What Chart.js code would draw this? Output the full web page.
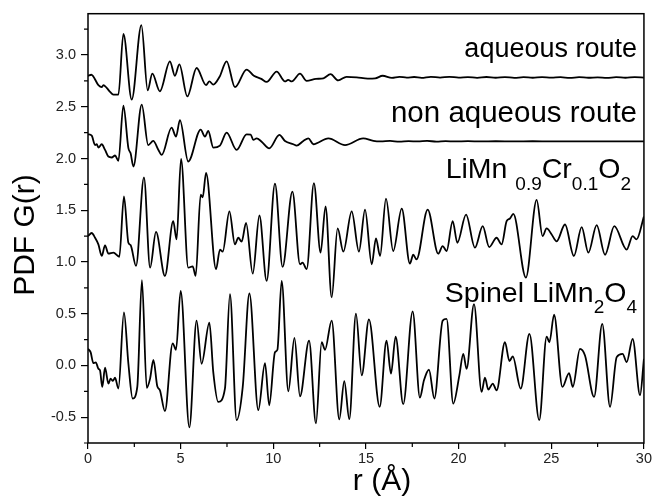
<!DOCTYPE html>
<html>
<head>
<meta charset="utf-8">
<script src="https://cdn.jsdelivr.net/npm/chart.js@4"></script>
<style>
  html, body { margin: 0; padding: 0; background: #fff; }
  #wrap { width: 653px; height: 498px; }
</style>
</head>
<body>
<div id="wrap"><canvas id="pdf" width="653" height="498"></canvas></div>
<script>
// r (Å), G(r)
const aqueous = [[0,2.80],[0.18,2.81],[0.56,2.71],[0.74,2.69],[0.83,2.71],[1.01,2.683],[1.19,2.644],[1.37,2.618],[1.64,2.618],
  [1.91,3.205],[2.36,2.57],[2.88,3.29],[3.22,2.66],[3.47,2.82],[3.88,2.65],[4.42,2.94],[4.69,2.80],[4.93,2.91],[5.36,2.60],
  [5.86,2.875],[6.37,2.71],[6.55,2.745],[6.76,2.715],[7.1,2.79],[7.48,2.94],[7.93,2.69],[8.56,2.86],[8.95,2.80],[9.35,2.77],
  [9.64,2.74],[10.18,2.84],[10.63,2.745],[10.8,2.76],[11.0,2.745],[11.44,2.82],[11.8,2.75],[12.3,2.77],[12.7,2.775],
  [13.09,2.815],[13.5,2.755],[13.95,2.79],[14.5,2.785],[15.1,2.772],[15.5,2.775],[15.9,2.80],[16.4,2.78],[16.8,2.79],
  [17.2,2.782],[17.6,2.788],[18.0,2.78],[18.5,2.79],[19.0,2.783],[19.5,2.79],[20.0,2.782],[20.5,2.787],[21.0,2.78],
  [21.5,2.788],[22.0,2.781],[22.5,2.787],[23.0,2.78],[23.5,2.786],[24.0,2.781],[24.5,2.787],[25.0,2.782],[25.5,2.786],
  [26.0,2.78],[26.5,2.786],[27.0,2.781],[27.5,2.785],[28.0,2.78],[28.5,2.786],[29.0,2.781],[29.5,2.786],[30.0,2.783]];

const nonAqueous = [[0,2.234],[0.2,2.221],[0.38,2.13],[0.47,2.14],[0.56,2.106],[0.74,2.138],[0.92,2.083],[1.1,2.019],
  [1.28,2.01],[1.46,2.029],[1.64,1.978],[1.91,2.51],[2.18,2.10],[2.3,2.05],[2.45,1.923],[2.9,2.522],[3.25,2.13],[3.52,2.17],
  [3.8,2.083],[3.98,2.035],[4.51,2.298],[4.75,2.212],[4.96,2.372],[5.41,1.971],[6.08,2.279],[6.31,2.212],[6.49,2.266],
  [6.76,2.106],[7.12,2.125],[7.48,2.25],[8.02,2.083],[8.56,2.234],[8.78,2.232],[8.92,2.18],[9.1,2.195],[9.37,2.163],
  [9.78,2.099],[10.33,2.228],[10.63,2.17],[11.08,2.138],[11.26,2.125],[11.62,2.17],[11.89,2.195],[12.16,2.138],
  [12.97,2.195],[13.87,2.13],[14.85,2.195],[15.4,2.17],[15.8,2.165],[16.3,2.17],[16.8,2.163],[17.3,2.168],[17.8,2.165],
  [18.3,2.17],[18.8,2.164],[19.3,2.168],[19.8,2.165],[20.5,2.168],[21.2,2.165],[22,2.167],[23,2.165],[24,2.167],
  [25,2.165],[26,2.166],[27,2.165],[28,2.166],[29,2.165],[30,2.166]];

const limnCr = [[0,1.25],[0.2,1.28],[0.38,1.234],[0.56,1.17],[0.74,1.058],[0.92,1.16],[1.1,1.08],[1.37,1.09],[1.69,1.05],
  [1.94,1.635],[2.18,1.186],[2.3,1.163],[2.59,0.962],[3.02,1.817],[3.35,0.945],[3.67,1.29],[4.15,0.865],[4.6,1.394],
  [4.78,1.218],[5.02,1.997],[5.41,0.945],[5.65,0.958],[5.81,0.865],[6.08,1.65],[6.19,1.625],[6.37,1.86],[6.91,0.93],
  [7.12,1.12],[7.27,1.10],[7.63,1.49],[7.93,1.17],[8.11,1.234],[8.29,1.196],[8.53,1.378],[8.89,0.887],[9.25,1.449],
  [9.64,0.817],[10.09,1.757],[10.5,0.952],[11.03,1.68],[11.44,0.978],[11.58,0.993],[11.8,0.93],[12.19,1.763],[12.55,1.09],
  [12.82,1.538],[13.15,0.657],[13.47,1.324],[13.78,1.10],[14.23,1.49],[14.62,1.10],[14.95,1.506],[15.31,0.978],
  [15.54,1.228],[15.76,1.058],[16.08,1.612],[16.47,1.106],[16.93,1.516],[17.37,0.984],[17.55,1.07],[17.73,1.025],
  [18.33,1.506],[18.9,1.08],[19.14,1.154],[19.35,1.106],[19.68,1.394],[19.93,1.186],[20.4,1.458],[20.88,1.138],
  [21.3,1.346],[21.65,1.144],[22.05,1.234],[22.32,1.17],[22.59,1.394],[22.77,1.42],[22.95,1.465],[23.63,0.849],
  [24.21,1.60],[24.53,1.25],[24.75,1.324],[25.02,1.266],[25.29,1.20],[25.74,1.362],[26.22,1.058],[26.64,1.337],
  [27.0,1.09],[27.45,1.356],[27.9,1.07],[28.4,1.346],[29.07,1.12],[29.39,1.25],[29.6,1.218],[30,1.44]];

const spinel = [[0,0.16],[0.14,0.128],[0.29,0.022],[0.42,0.03],[0.56,-0.032],[0.65,-0.05],[0.77,-0.208],[0.92,-0.022],
  [1.1,-0.176],[1.22,-0.128],[1.34,-0.15],[1.46,-0.119],[1.64,-0.224],[1.94,0.513],[2.18,0.016],[2.41,-0.32],[2.66,-0.208],
  [2.91,0.824],[3.17,-0.218],[3.35,-0.128],[3.53,0.054],[3.74,-0.202],[3.88,-0.24],[4.15,-0.442],[4.57,0.214],[4.75,0.151],
  [5.0,0.721],[5.47,-0.599],[5.86,0.433],[6.13,0.016],[6.55,0.413],[6.76,-0.064],[7.03,-0.353],[7.39,-0.224],[7.66,0.689],
  [8.02,-0.529],[8.35,-0.208],[8.71,0.695],[9.19,-0.433],[9.55,0.022],[9.78,-0.385],[10.09,0.128],[10.22,0.151],
  [10.45,0.817],[10.81,-0.25],[11.14,0.266],[11.44,-0.298],[11.93,0.24],[12.3,-0.561],[12.61,0.224],[12.79,0.151],
  [13.15,0.433],[13.56,-0.522],[13.83,-0.151],[14.1,-0.52],[14.46,0.50],[14.77,-0.096],[15.16,0.445],[15.74,-0.401],
  [16.11,0.24],[16.35,-0.08],[16.6,0.279],[17.01,-0.375],[17.52,0.522],[17.91,-0.311],[18.13,-0.144],[18.4,-0.042],
  [18.69,-0.32],[19.14,0.433],[19.35,0.449],[19.71,-0.369],[20.04,-0.096],[20.25,0.112],[20.43,-0.032],[20.83,0.593],
  [21.24,-0.256],[21.42,-0.119],[21.6,-0.234],[21.84,-0.176],[22.05,-0.24],[22.5,0.224],[22.74,0.042],[22.92,0.087],
  [23.35,-0.224],[23.82,0.305],[24.35,-0.529],[24.75,0.279],[24.9,0.224],[25.15,0.49],[25.6,-0.208],[25.96,-0.074],
  [26.16,-0.208],[26.55,0.16],[26.82,0.096],[27.31,-0.304],[27.75,0.401],[28.17,-0.401],[28.53,0.08],[28.85,0.112],
  [29.07,0.032],[29.39,0.257],[29.79,-0.288],[30,0.064]];

const xMajor = [0, 5, 10, 15, 20, 25, 30];
const yMajor = [-0.5, 0.0, 0.5, 1.0, 1.5, 2.0, 2.5, 3.0];

const FONT = '"Liberation Sans", Arial, sans-serif';

function toPoints(arr) {
  return arr.map(p => ({x: p[0], y: p[1]}));
}

// texte avec indices : segments [texte, indice?]
function drawRich(ctx, parts, right, base, big, small, drop) {
  let total = 0;
  parts.forEach(p => {
    ctx.font = (p[1] ? small : big) + 'px ' + FONT;
    total += ctx.measureText(p[0]).width;
  });
  let x = right - total;
  ctx.textAlign = 'left';
  ctx.textBaseline = 'alphabetic';
  parts.forEach(p => {
    ctx.font = (p[1] ? small : big) + 'px ' + FONT;
    ctx.fillText(p[0], x, p[1] ? base + drop : base);
    x += ctx.measureText(p[0]).width;
  });
}

const decor = {
  id: 'decor',
  afterDraw(chart) {
    const ctx = chart.ctx;
    const a = chart.chartArea;
    const xs = chart.scales.x, ys = chart.scales.y;
    ctx.save();
    ctx.strokeStyle = '#000';
    ctx.lineWidth = 1.5;
    ctx.strokeRect(a.left, a.top, a.right - a.left, a.bottom - a.top);

    // petits traits mineurs
    ctx.lineWidth = 1.2;
    ctx.beginPath();
    for (let v = 2.5; v < 30; v += 5) {
      const px = xs.getPixelForValue(v);
      ctx.moveTo(px, a.bottom); ctx.lineTo(px, a.bottom + 4);
    }
    for (let v = -0.75; v < 3.4; v += 0.5) {
      const py = ys.getPixelForValue(v);
      ctx.moveTo(a.left, py); ctx.lineTo(a.left - 4, py);
    }
    ctx.stroke();

    ctx.fillStyle = '#000';
    drawRich(ctx, [['aqueous route']], 637, 57, 27, 19, 0);
    drawRich(ctx, [['non aqueous route']], 637, 122, 29.5, 19, 0);
    drawRich(ctx, [['LiMn '], ['0.9', 1], ['Cr'], ['0.1', 1], ['O'], ['2', 1]], 631, 178, 28.5, 19, 12);
    drawRich(ctx, [['Spinel LiMn'], ['2', 1], ['O'], ['4', 1]], 637, 302, 28.5, 19, 11);

    // titres des axes
    ctx.font = '30px ' + FONT;
    ctx.textAlign = 'center';
    ctx.textBaseline = 'alphabetic';
    ctx.fillText('r (Å)', 382, 490);
    ctx.translate(34, 235);
    ctx.rotate(-Math.PI / 2);
    ctx.fillText('PDF G(r)', 0, 0);
    ctx.restore();
  }
};

const line = (data) => ({
  data: toPoints(data),
  borderColor: '#000',
  borderWidth: 1.8,
  pointRadius: 0,
  fill: false,
  cubicInterpolationMode: 'monotone'
});

new Chart(document.getElementById('pdf').getContext('2d'), {
  type: 'line',
  data: {
    datasets: [line(aqueous), line(nonAqueous), line(limnCr), line(spinel)]
  },
  options: {
    responsive: false,
    animation: false,
    layout: { padding: { top: 12, right: 9, left: 0, bottom: 0 } },
    plugins: { legend: { display: false }, tooltip: { enabled: false } },
    scales: {
      x: {
        type: 'linear',
        min: 0, max: 30,
        afterFit: s => { s.height = 55; },
        afterBuildTicks: s => { s.ticks = xMajor.map(v => ({value: v})); },
        border: { display: false },
        grid: { drawOnChartArea: false, tickLength: 6, color: '#000', lineWidth: 1.2 },
        ticks: { color: '#222', padding: 1, font: { family: FONT, size: 14.5 }, maxRotation: 0,
                 callback: v => String(v) }
      },
      y: {
        type: 'linear',
        min: -0.75, max: 3.4,
        afterFit: s => { s.width = 88; },
        afterBuildTicks: s => { s.ticks = yMajor.map(v => ({value: v})); },
        border: { display: false },
        grid: { drawOnChartArea: false, tickLength: 7, color: '#000', lineWidth: 1.2 },
        ticks: { color: '#222', padding: 5, font: { family: FONT, size: 14.5 },
                 callback: v => Number(v).toFixed(1) }
      }
    }
  },
  plugins: [decor]
});
</script>
</body>
</html>
